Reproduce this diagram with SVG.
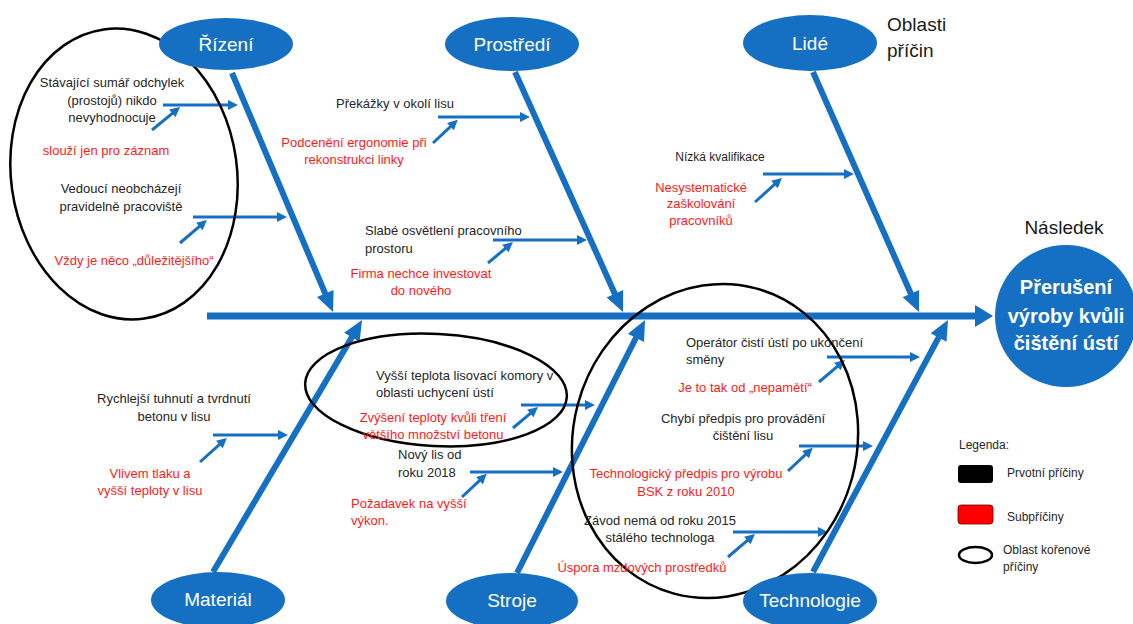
<svg xmlns="http://www.w3.org/2000/svg" width="1133" height="624" viewBox="0 0 1133 624">
<style>
.t{font-family:"Liberation Sans",Arial,sans-serif;font-size:13px;fill:#262626}
.r{font-family:"Liberation Sans",Arial,sans-serif;font-size:13px;fill:#FF1A1A}
.c{text-anchor:middle}
.node{fill:#1570C4}
.nt{font-family:"Liberation Sans",Arial,sans-serif;font-size:19px;fill:#fff;text-anchor:middle}
.big{font-family:"Liberation Sans",Arial,sans-serif;font-size:19px;fill:#1a1a1a}
.spine{stroke:#1570C4;stroke-width:7;fill:none}
.bone{stroke:#1570C4;stroke-width:6;fill:none;marker-end:url(#ab)}
.sub{stroke:#1570C4;stroke-width:3;fill:none;marker-end:url(#as)}
.root{fill:none;stroke:#000;stroke-width:2.5}
</style>
<defs>
<marker id="am" markerUnits="userSpaceOnUse" markerWidth="20" markerHeight="22" refX="3" refY="11" orient="auto" overflow="visible"><path d="M0,0 L18,11 L0,22 z" fill="#1570C4"/></marker>
<marker id="ab" markerUnits="userSpaceOnUse" markerWidth="20" markerHeight="18" refX="6" refY="9" orient="auto" overflow="visible"><path d="M0,0 L20,9 L0,18 z" fill="#1570C4"/></marker>
<marker id="as" markerUnits="userSpaceOnUse" markerWidth="10" markerHeight="10" refX="4" refY="5" orient="auto" overflow="visible"><path d="M0,0 L10,5 L0,10 z" fill="#1570C4"/></marker>
</defs>
<rect width="1133" height="624" fill="#fff"/>

<g id="connectors">
<line class="spine" x1="207" y1="316" x2="978" y2="316" marker-end="url(#am)"/>
<line class="bone" x1="232" y1="73" x2="327.6" y2="299.1"/>
<line class="bone" x1="515" y1="72" x2="617.3" y2="299.2"/>
<line class="bone" x1="813" y1="72" x2="913.3" y2="299.2"/>
<line class="bone" x1="213" y1="572" x2="354.9" y2="332.1"/>
<line class="bone" x1="517" y1="573" x2="638.7" y2="332.5"/>
<line class="bone" x1="813" y1="572" x2="941.4" y2="332.3"/>
<line class="sub" x1="163" y1="105" x2="232" y2="105"/>
<line class="sub" x1="193" y1="217" x2="281" y2="217"/>
<line class="sub" x1="438" y1="117" x2="524" y2="117"/>
<line class="sub" x1="493" y1="240" x2="581" y2="240"/>
<line class="sub" x1="763" y1="174" x2="848" y2="174"/>
<line class="sub" x1="213" y1="435" x2="282" y2="435"/>
<line class="sub" x1="521" y1="405" x2="589" y2="405"/>
<line class="sub" x1="470" y1="472" x2="557" y2="472"/>
<line class="sub" x1="827" y1="357" x2="914" y2="357"/>
<line class="sub" x1="799" y1="446" x2="867" y2="446"/>
<line class="sub" x1="733" y1="532" x2="822" y2="532"/>
<line class="sub" x1="152" y1="130" x2="175.4" y2="110.9"/>
<line class="sub" x1="180" y1="243" x2="202.4" y2="223.9"/>
<line class="sub" x1="433" y1="143" x2="453.4" y2="123.9"/>
<line class="sub" x1="488" y1="263" x2="508.4" y2="245.9"/>
<line class="sub" x1="755" y1="202" x2="777.4" y2="181.9"/>
<line class="sub" x1="200" y1="462" x2="222.4" y2="441.9"/>
<line class="sub" x1="513" y1="428" x2="533.4" y2="410.9"/>
<line class="sub" x1="462" y1="497" x2="482.4" y2="477.9"/>
<line class="sub" x1="819" y1="382" x2="840.4" y2="363.9"/>
<line class="sub" x1="788" y1="471" x2="808.4" y2="451.9"/>
<line class="sub" x1="728" y1="557" x2="750.4" y2="537.9"/>
</g>

<g id="root-areas">
<ellipse class="root" cx="124" cy="174" rx="113" ry="146" transform="rotate(-8 124 174)"/>
<ellipse class="root" cx="436" cy="390" rx="131" ry="56" transform="rotate(3 436 390)"/>
<ellipse class="root" cx="715" cy="441" rx="142" ry="158" transform="rotate(15 715 441)"/>
</g>

<g id="node-rizeni"><ellipse class="node" cx="226" cy="44" rx="67" ry="26"/><text class="nt" x="226" y="51">Řízení</text></g>
<g id="node-prostredi"><ellipse class="node" cx="512" cy="44" rx="67" ry="27"/><text class="nt" x="512" y="51">Prostředí</text></g>
<g id="node-lide"><ellipse class="node" cx="810" cy="43" rx="67" ry="28"/><text class="nt" x="810" y="50">Lidé</text></g>
<g id="node-material"><ellipse class="node" cx="218" cy="600" rx="67" ry="28"/><text class="nt" x="218" y="606">Materiál</text></g>
<g id="node-stroje"><ellipse class="node" cx="512" cy="601" rx="66" ry="28"/><text class="nt" x="512" y="607">Stroje</text></g>
<g id="node-technologie"><ellipse class="node" cx="810" cy="601" rx="67" ry="28"/><text class="nt" x="810" y="607">Technologie</text></g>
<g id="node-effect"><circle class="node" cx="1066" cy="316" r="71"/>
<text class="nt" style="font-weight:bold;font-size:20px" x="1066" y="294">Přerušení</text>
<text class="nt" style="font-weight:bold;font-size:20px" x="1066" y="323">výroby kvůli</text>
<text class="nt" style="font-weight:bold;font-size:20px" x="1066" y="350">čištění ústí</text></g>

<g id="labels">
<text class="big" x="887" y="31">Oblasti</text>
<text class="big" x="887" y="57">příčin</text>
<text class="big c" x="1064" y="234">Následek</text>
</g>

<g id="causes-rizeni">
<text class="t c" x="112" y="86.5">Stávající sumář odchylek</text>
<text class="t c" x="112" y="104.5">(prostojů) nikdo</text>
<text class="t c" x="112" y="121.5">nevyhodnocuje</text>
<text class="r c" x="106" y="155">slouží jen pro záznam</text>
<text class="t c" x="121" y="192.5">Vedoucí neobcházejí</text>
<text class="t c" x="121" y="210.5">pravidelně pracoviště</text>
<text class="r c" x="134" y="264.5">Vždy je něco „důležitějšího“</text>
</g>
<g id="causes-prostredi">
<text class="t c" x="395" y="107.5">Překážky v okolí lisu</text>
<text class="r c" x="354" y="146.5">Podcenění ergonomie při</text>
<text class="r c" x="354" y="163.5">rekonstrukci linky</text>
<text class="t" x="365" y="234.5">Slabé osvětlení pracovního</text>
<text class="t" x="365" y="252.5">prostoru</text>
<text class="r c" x="421" y="277.5">Firma nechce investovat</text>
<text class="r c" x="421" y="294.5">do nového</text>
</g>
<g id="causes-lide">
<text class="t c" style="font-size:12px" x="720" y="160.5">Nízká kvalifikace</text>
<text class="r c" x="701" y="191.5">Nesystematické</text>
<text class="r c" x="701" y="208">zaškolování</text>
<text class="r c" x="701" y="225">pracovníků</text>
</g>
<g id="causes-material">
<text class="t c" x="174" y="402.5">Rychlejší tuhnutí a tvrdnutí</text>
<text class="t c" x="174" y="420.5">betonu v lisu</text>
<text class="r c" x="150" y="477.5">Vlivem tlaku a</text>
<text class="r c" x="150" y="494.5">vyšší teploty v lisu</text>
</g>
<g id="causes-stroje">
<text class="t" x="376" y="379.5">Vyšší teplota lisovací komory v</text>
<text class="t" x="376" y="396.5">oblasti uchycení ústí</text>
<text class="r c" x="433" y="421.5">Zvýšení teploty kvůli tření</text>
<text class="r c" x="433" y="438.5">většího množství betonu</text>
<text class="t" x="398" y="458.5">Nový lis od</text>
<text class="t" x="398" y="476.5">roku 2018</text>
<text class="r" x="351" y="507.5">Požadavek na vyšší</text>
<text class="r" x="351" y="524.5">výkon.</text>
</g>
<g id="causes-technologie">
<text class="t" x="686" y="346.5">Operátor čistí ústí po ukončení</text>
<text class="t" x="686" y="363.5">směny</text>
<text class="r c" x="745" y="391.5">Je to tak od „nepamětí“</text>
<text class="t c" x="743" y="422.5">Chybí předpis pro provádění</text>
<text class="t c" x="743" y="439.5">čištění lisu</text>
<text class="r c" x="686" y="477.5">Technologický předpis pro výrobu</text>
<text class="r c" x="686" y="495.5">BSK z roku 2010</text>
<text class="t c" x="660" y="524.5">Závod nemá od roku 2015</text>
<text class="t c" x="660" y="541.5">stálého technologa</text>
<text class="r c" x="642" y="571.5">Úspora mzdových prostředků</text>
</g>

<g id="legend">
<text class="t" style="font-size:12px" x="959" y="449">Legenda:</text>
<rect x="958" y="465" width="35" height="18" rx="3" fill="#000"/>
<text class="t" style="font-size:12px" x="1007" y="477">Prvotní příčiny</text>
<rect x="958" y="505" width="35" height="19" rx="3" fill="#FF0000" stroke="#600" stroke-width="0.8"/>
<text class="t" style="font-size:12px" x="1007" y="521">Subpříčiny</text>
<ellipse cx="975.5" cy="555" rx="16.5" ry="8" fill="none" stroke="#000" stroke-width="2.5"/>
<text class="t" style="font-size:12px" x="1003" y="554">Oblast kořenové</text>
<text class="t" style="font-size:12px" x="1003" y="571">příčiny</text>
</g>
</svg>
